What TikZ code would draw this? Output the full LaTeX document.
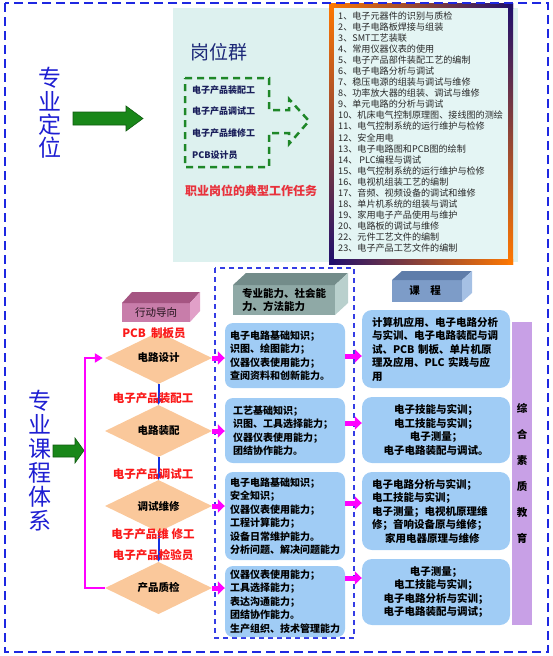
\documentclass[tikz,border=0pt]{standalone}
\usepackage{fontspec}
\setmainfont{Noto Sans CJK SC}
\usetikzlibrary{arrows.meta,shapes.geometric}
\definecolor{frameblue}{RGB}{30,40,225}
\definecolor{cyanbg}{RGB}{221,241,239}
\definecolor{listbg}{RGB}{228,245,244}
\definecolor{titlenavy}{RGB}{28,40,120}
\definecolor{itemnavy}{RGB}{25,30,90}
\definecolor{dgreen}{RGB}{30,135,40}
\definecolor{taskred}{RGB}{232,50,60}
\definecolor{labred}{RGB}{250,25,25}
\definecolor{peach}{RGB}{250,200,155}
\definecolor{boxblue}{RGB}{160,204,245}
\definecolor{lavender}{RGB}{200,160,230}
\definecolor{magentaA}{RGB}{255,0,255}
\definecolor{arrowgreen}{RGB}{25,135,25}
\definecolor{arrowdark}{RGB}{15,90,15}
\definecolor{titleblue}{RGB}{30,30,210}
\definecolor{listgray}{RGB}{40,40,40}
\definecolor{darrowblue}{RGB}{20,50,225}
\definecolor{pinkF}{RGB}{200,125,170}
\definecolor{pinkT}{RGB}{165,85,130}
\definecolor{pinkS}{RGB}{225,160,200}
\definecolor{tealF}{RGB}{143,169,166}
\definecolor{tealT}{RGB}{115,140,138}
\definecolor{tealS}{RGB}{185,208,205}
\definecolor{steelF}{RGB}{125,156,200}
\definecolor{steelT}{RGB}{95,125,170}
\definecolor{steelS}{RGB}{165,192,228}
\definecolor{orangeF}{RGB}{255,120,0}
\definecolor{navyF}{RGB}{30,15,110}
\definecolor{magF}{RGB}{210,20,110}
\definecolor{purpF}{RGB}{110,20,140}
\tikzset{
  listitem/.style={anchor=west,inner sep=0pt,text=listgray,font=\fontsize{9.1}{10}\selectfont},
  jobitem/.style={anchor=west,inner sep=0pt,text=itemnavy,font=\fontsize{9}{10}\selectfont\bfseries},
  redlab/.style={inner sep=0pt,text=labred,font=\fontsize{11.5}{12}\selectfont\bfseries},
  dia/.style={shape=diamond,fill=peach,minimum width=107pt,minimum height=44pt,inner sep=0pt,font=\fontsize{10.5}{11}\selectfont\bfseries},
  mbox/.style={rounded corners=8pt,fill=boxblue,text width=110pt,inner xsep=5pt,inner ysep=2pt,align=left,font=\fontsize{10}{13.5}\selectfont\bfseries},
  rbox/.style={rounded corners=10pt,fill=boxblue,text width=128pt,inner xsep=10pt,inner ysep=2pt,font=\fontsize{10.5}{13.5}\selectfont\bfseries},
  vtitle/.style={align=center,inner sep=0pt,text=titleblue},
  magblk/.style={draw=magentaA,line width=5pt,-{Triangle[length=7pt,width=13pt]}},
  magbr/.style={draw=magentaA,line width=2.5pt,-{Triangle[length=8pt,width=9pt]}},
  bluearr/.style={draw=darrowblue,line width=2pt,-{Triangle[length=6pt,width=7pt]}},
  boxtext/.style={inner sep=0pt,font=\fontsize{10.5}{13}\selectfont\bfseries}
}
\begin{document}
\begin{tikzpicture}[x=1pt,y=-1pt]
\useasboundingbox (0,0) rectangle (553,656);
% ---------- upper section ----------
\fill[cyanbg] (173,8) rectangle (518,262);
% gradient frame of the task list
\shade[left color=orangeF,middle color=magF,right color=navyF] (329,3) rectangle (513,8);
\shade[left color=navyF,middle color=purpF,right color=orangeF] (329,259) rectangle (513,264);
\shade[top color=orangeF,middle color=magF,bottom color=navyF] (329,3) rectangle (334,264);
\shade[top color=navyF,middle color=navyF!70!purpF,bottom color=orangeF] (508,3) rectangle (513,264);
\fill[listbg] (334,8) rectangle (508,259);
\foreach \t [count=\i] in {1、电子元器件的识别与质检,2、电子电路板焊接与组装,3、SMT工艺装联,4、常用仪器仪表的使用,5、电子产品部件装配工艺的编制,6、电子电路分析与调试,7、稳压电源的组装与调试与维修,8、功率放大器的组装、调试与维修,9、单元电路的分析与调试,10、机床电气控制原理图、接线图的测绘,11、电气控制系统的运行维护与检修,12、安全用电,13、电子电路图和PCB图的绘制,14、 PLC编程与调试,15、电气控制系统的运行维护与检修,16、电视机组装工艺的编制,17、音频、视频设备的调试和维修,18、单片机系统的组装与调试,19、家用电子产品使用与维护,20、电路板的调试与维修,22、元件工艺文件的编制,23、电子产品工艺文件的编制}
  \node[listitem] (L\i) at (338,{16+11.05*(\i-1)}) {\t};
\node[anchor=west,inner sep=0pt,text=titlenavy,font=\fontsize{19}{20}\selectfont] (gwq) at (190,52) {岗位群};
\draw[dgreen,line width=2.5pt,dash pattern=on 7pt off 5pt,line join=miter]
  (185,78) -- (269,78) -- (269,110) -- (289,110) -- (289,99) -- (309,121) -- (289,144) -- (289,133) -- (269,133) -- (269,167) -- (185,167) -- cycle;
\node[jobitem] (j1) at (192,90) {电子产品装配工};
\node[jobitem] (j2) at (192,111.5) {电子产品调试工};
\node[jobitem] (j3) at (192,133) {电子产品维修工};
\node[jobitem] (j4) at (192,155) {PCB设计员};
\node[inner sep=0pt,text=taskred,font=\fontsize{12}{13}\selectfont\bfseries] (task) at (251,191) {职业岗位的典型工作任务};
% left title and arrow
\node[vtitle,font=\fontsize{23}{23.4}\selectfont] (zydw) at (50,113) {专\\业\\定\\位};
\filldraw[fill=arrowgreen,draw=arrowdark,line width=0.6pt] (73,112) -- (126,112) -- (126,106) -- (143,118.5) -- (126,131) -- (126,125) -- (73,125) -- cycle;
% ---------- lower section ----------
\node[vtitle,font=\fontsize{23}{24}\selectfont] (zykc) at (40,461) {专\\业\\课\\程\\体\\系};
\filldraw[fill=arrowgreen,draw=arrowdark,line width=0.6pt] (53,445) -- (75,445) -- (75,438) -- (84,450.5) -- (75,463) -- (75,457) -- (53,457) -- cycle;
% middle dashed box
\draw[frameblue!90!white,line width=1.5pt,dash pattern=on 5pt off 4pt] (215,268) rectangle (354,638);
% 3D header boxes
\fill[pinkF] (122,303) rectangle (190,322);
\fill[pinkT] (122,303) -- (132,292) -- (200,292) -- (190,303) -- cycle;
\fill[pinkS] (190,303) -- (200,292) -- (200,311) -- (190,322) -- cycle;
\node[inner sep=0pt,text=black!80!pinkT,font=\fontsize{10.5}{11}\selectfont] (xdd) at (156,312.5) {行动导向};
\fill[tealF] (233,285) rectangle (335,315);
\fill[tealT] (233,285) -- (246,273) -- (348,273) -- (335,285) -- cycle;
\fill[tealS] (335,285) -- (348,273) -- (348,303) -- (335,315) -- cycle;
\node[boxtext,align=left] (nl) at (284,299.5) {专业能力、社会能\\力、方法能力};
\fill[steelF] (392,280) rectangle (462,302);
\fill[steelT] (392,280) -- (402,271) -- (472,271) -- (462,280) -- cycle;
\fill[steelS] (462,280) -- (472,271) -- (472,293) -- (462,302) -- cycle;
\node[boxtext] (kc) at (425,291) {课\quad 程};
% diamonds
\node[dia] (d1) at (158.5,358) {电路设计};
\node[dia] (d2) at (158.5,431) {电路装配};
\node[dia] (d3) at (158.5,506) {调试维修};
\node[dia] (d4) at (158.5,588) {产品质检};
\draw[bluearr] (d1.south) -- (d2.north);
\draw[bluearr] (d2.south) -- (d3.north);
\draw[bluearr] (d3.south) -- (d4.north);
\node[redlab] (p0) at (154,333) {PCB\ \ 制板员};
\node[redlab] (p1) at (153,398) {电子产品装配工};
\node[redlab] (p2) at (153,474) {电子产品调试工};
\node[redlab] (p3) at (153,534) {电子产品维\ 修工};
\node[redlab] (p4) at (153,555) {电子产品检验员};
\draw[magbr,shorten >=2pt] (d4.west) -- ++(-20,0) |- (d1.west);
% middle boxes
\node[mbox,minimum height=65pt] (m1) at (285,355.5) {电子电路基础知识；\\识图、绘图能力；\\仪器仪表使用能力；\\查阅资料和创新能力。};
\node[mbox,minimum height=65pt] (m2) at (285,430.5) {\hspace*{3pt}工艺基础知识；\\\hspace*{3pt}识图、工具选择能力；\\\hspace*{3pt}仪器仪表使用能力；\\\hspace*{3pt}团结协作能力。};
\node[mbox,minimum height=88pt] (m3) at (285,516) {电子电路基础知识；\\安全知识；\\仪器仪表使用能力；\\工程计算能力；\\设备日常维护能力。\\分析问题、解决问题能力};
\node[mbox,minimum height=71pt] (m4) at (285,601.5) {仪器仪表使用能力；\\工具选择能力；\\表达沟通能力；\\团结协作能力。\\生产组织、技术管理能力};
% right boxes
\node[rbox,align=left,minimum height=78pt] (r1) at (436,349) {计算机应用、电子电路分析\\与实训、电子电路装配与调\\试、PCB 制板、单片机原\\理及应用、PLC 实践与应\\用};
\node[rbox,align=center,minimum height=66pt] (r2) at (436,430) {电子技能与实训；\\电工技能与实训；\\电子测量；\\电子电路装配与调试。};
\node[rbox,align=left,minimum height=78pt] (r3) at (436,511) {电子电路分析与实训；\\电工技能与实训；\\电子测量；电视机原理维\\修；音响设备原与维修；\\\hspace*{13pt}家用电器原理与维修};
\node[rbox,align=center,minimum height=66pt] (r4) at (436,592) {电子测量；\\电工技能与实训；\\电子电路分析与实训；\\电子电路装配与调试；};
% purple bar
\node[fill=lavender,minimum width=20pt,minimum height=303pt,inner sep=0pt,align=center,font=\fontsize{10.5}{26}\selectfont\bfseries] (bar) at (522,473.5) {综\\合\\素\\质\\教\\育};
% magenta block arrows
\coordinate (y1) at (0,356);
\coordinate (y2) at (0,423);
\coordinate (y3) at (0,503);
\coordinate (y4) at (0,578);
\draw[magblk] (d1.east) -- (d1.east -| m1.west);
\draw[magblk] (d2.east) -- (d2.east -| m2.west);
\draw[magblk] (d3.east) -- (d3.east -| m3.west);
\draw[magblk] (d4.east) -- (d4.east -| m4.west);
\draw[magblk] (m1.east |- y1) -- (r1.west |- y1);
\draw[magblk] (m2.east |- y2) -- (r2.west |- y2);
\draw[magblk] (m3.east |- y3) -- (r3.west |- y3);
\draw[magblk] (m4.east |- y4) -- (r4.west |- y4);
% outer dashed frame
\draw[frameblue,line width=2pt,dash pattern=on 9pt off 5pt] (5,3) rectangle (548,652);
\end{tikzpicture}
\end{document}
